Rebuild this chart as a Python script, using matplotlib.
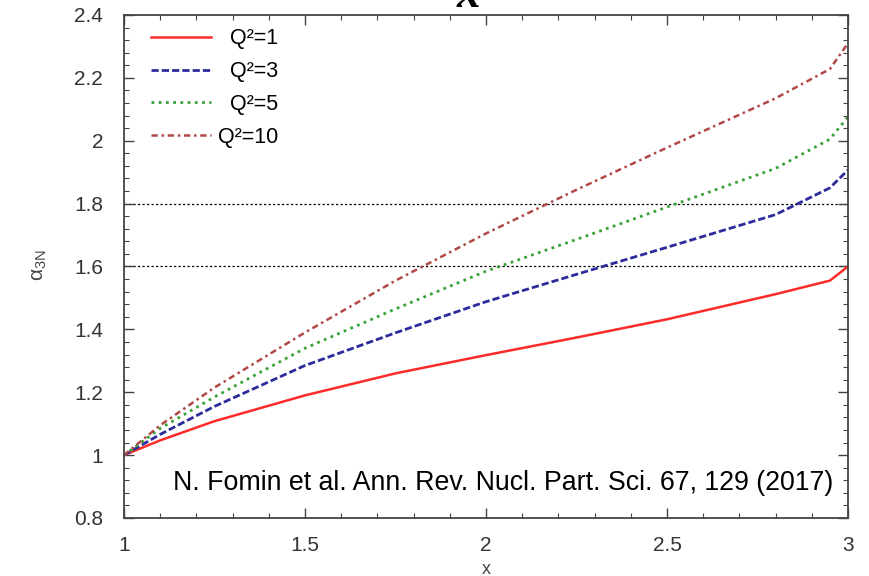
import matplotlib
matplotlib.use('Agg')
import matplotlib.pyplot as plt
import matplotlib.ticker as mtick

plt.rcParams['font.family'] = ['Liberation Sans', 'DejaVu Sans']
plt.rcParams['mathtext.fontset'] = 'custom'
plt.rcParams['mathtext.rm'] = 'Liberation Sans'
plt.rcParams['mathtext.it'] = 'Liberation Sans:italic'

# alpha_3N vs x for several Q^2 values
x = [1.0, 1.1, 1.25, 1.5, 1.75, 2.0, 2.25, 2.5, 2.8, 2.95, 3.0]
a_q1 = [1.0, 1.047, 1.108, 1.19, 1.26, 1.318, 1.374, 1.432, 1.512, 1.555, 1.6]
a_q3 = [1.0, 1.066, 1.155, 1.285, 1.389, 1.488, 1.575, 1.661, 1.765, 1.85, 1.907]
a_q5 = [1.0, 1.085, 1.185, 1.34, 1.465, 1.585, 1.686, 1.789, 1.912, 2.005, 2.076]
a_q10 = [1.0, 1.095, 1.215, 1.39, 1.555, 1.705, 1.844, 1.978, 2.135, 2.228, 2.31]
labels = ['\u2007Q\u00b2=1', '\u2007Q\u00b2=3', '\u2007Q\u00b2=5', 'Q\u00b2=10']
ref_levels = [1.6, 1.8]

fig = plt.figure(figsize=(8.69, 5.76), dpi=100)
ax = fig.add_axes([0.1427, 0.1007, 0.8331, 0.8733])

for yl in ref_levels:
    ax.axhline(yl, color='black', lw=0.9, ls=(0, (1.8, 1.8)), zorder=1)

l1, = ax.plot(x, a_q1, color='#ff2a2a', lw=1.8, ls='-')
l2, = ax.plot(x, a_q3, color='#2b2b9c', lw=2.0, ls=(0, (2.6, 1.1)))
l3, = ax.plot(x, a_q5, color='#38a238', lw=2.0, ls=(0, (1, 1.6)))
l4, = ax.plot(x, a_q10, color='#b04848', lw=1.8, ls=(0, (2.5, 1.5, 1, 1.5)))

ax.set_xlim(1, 3)
ax.set_ylim(0.8, 2.4)
ax.xaxis.set_major_locator(mtick.MultipleLocator(0.5))
ax.xaxis.set_minor_locator(mtick.MultipleLocator(0.1))
ax.yaxis.set_major_locator(mtick.MultipleLocator(0.2))
ax.yaxis.set_minor_locator(mtick.MultipleLocator(0.04))
ax.xaxis.set_major_formatter(mtick.FuncFormatter(lambda v, p: '%g' % v))
ax.yaxis.set_major_formatter(mtick.FuncFormatter(lambda v, p: '%g' % round(v, 2)))

ax.tick_params(which='both', direction='in', top=True, right=True, colors='#444444',
               labelcolor='#333333', labelsize=15)
ax.tick_params(which='major', length=7, width=1.0)
ax.tick_params(which='minor', length=3.5, width=0.8)
ax.tick_params(axis='x', which='major', pad=13)
ax.tick_params(axis='y', which='major', pad=15)
for s in ax.spines.values():
    s.set_color('#444444')
    s.set_linewidth(1.3)

ax.set_ylabel(r'$\mathrm{\alpha}_{\mathrm{3N}}$', fontsize=15, color='#444444')
ax.yaxis.set_label_coords(-0.104, 0.503)
ax.set_xlabel('x', fontsize=13, color='#444444')
ax.xaxis.set_label_coords(0.5, -0.086)

leg = ax.legend([l1, l2, l3, l4], labels, loc='upper left', frameon=False,
                fontsize=15.5, handlelength=2.8, handletextpad=0.3, labelspacing=0.55,
                bbox_to_anchor=(0.0105, 1.012))

ax.text(0.979, 0.07, 'N. Fomin et al. Ann. Rev. Nucl. Part. Sci. 67, 129 (2017)',
        transform=ax.transAxes, ha='right', va='center', fontsize=19.3, color='black')

fig.text(0.539, 0.988, 'x', fontsize=34, family='Liberation Serif', weight='bold',
         style='italic', ha='center', va='baseline')

fig.savefig('out.png', dpi=100, facecolor='white')
